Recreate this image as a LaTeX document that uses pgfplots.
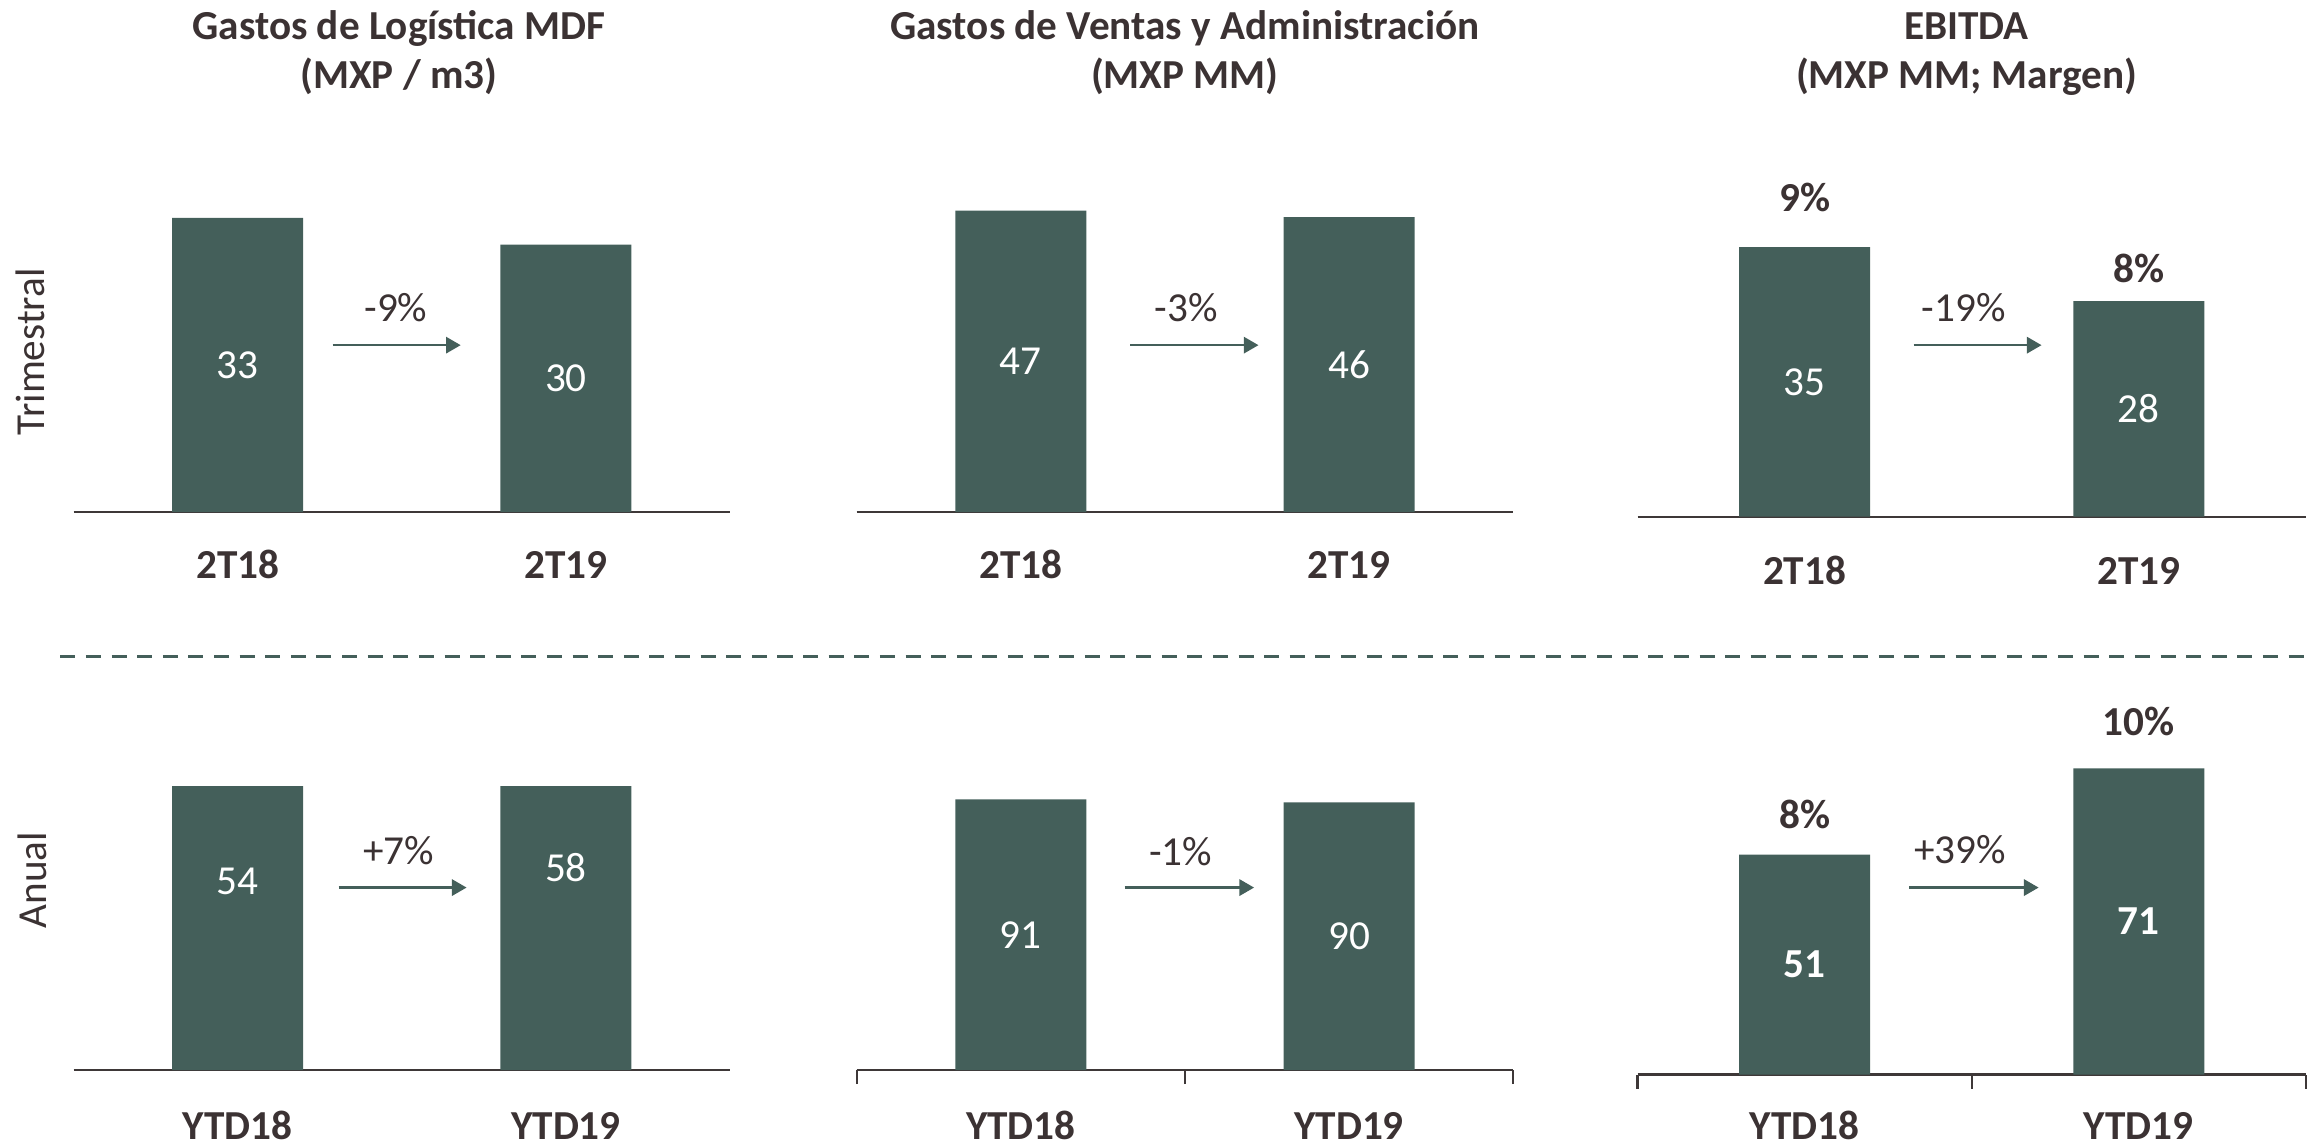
\documentclass[border=0pt]{standalone}
\usepackage{fontspec}
\setmainfont{Carlito}
\usepackage{pgfplots}
\pgfplotsset{compat=1.18}
\usetikzlibrary{arrows.meta}
\definecolor{barc}{HTML}{445F5A}
\definecolor{txt}{HTML}{3B3233}
\definecolor{axc}{HTML}{3E3838}
\newcommand{\vfont}{\fontsize{14}{16.7}\selectfont}
\newcommand{\bfont}{\fontsize{14}{16.7}\selectfont\bfseries}

\pgfplotsset{
  panel/.style={
    scale only axis, anchor=south west,
    xmin=-0.5, xmax=1.5, ymin=0,
    axis x line*=bottom, hide y axis,
    x axis line style={line width=0.75pt, draw=axc},
    xtick={0,1}, major tick length=0pt, xtick style={draw=none},
    xticklabel style={font=\bfont, text=txt, anchor=base, inner ysep=0pt, yshift=-22.5pt},
  },
  ticked/.style={
    extra x ticks={-0.5,0.5,1.5}, extra x tick labels={},
    extra x tick style={major tick length=4.75pt, tick align=outside,
      xtick style={draw=axc, line width=0.75pt}},
  },
  bars/.style={ybar, bar width=44.5pt, fill=barc, draw=none},
  inlbl/.style={draw=none, nodes near coords, point meta=explicit symbolic,
    nodes near coords style={anchor=center, text=white, font=\vfont}},
  toplbl/.style={draw=none, nodes near coords, point meta=explicit symbolic,
    nodes near coords style={anchor=center, text=txt, font=\bfont}},
}

\begin{document}
\begin{tikzpicture}
\path[use as bounding box] (0,0) rectangle (784pt,-389.5pt);

% ---- Trimestral ----
\begin{axis}[panel, at={(25pt,-174pt)}, width=223pt, height=124pt, ymax=40.92,
  xticklabels={2T18,2T19}]
\addplot[bars] coordinates {(0,33) (1,30)};
\addplot[inlbl] coordinates {(0,16.5)[33] (1,15)[30]};
\end{axis}

\begin{axis}[panel, at={(291pt,-174pt)}, width=223pt, height=124pt, ymax=56.88,
  xticklabels={2T18,2T19}]
\addplot[bars] coordinates {(0,47) (1,46)};
\addplot[inlbl] coordinates {(0,23.5)[47] (1,23)[46]};
\end{axis}

\begin{axis}[panel, at={(556.25pt,-175.5pt)}, width=227pt, height=125.5pt, ymax=47.99,
  xticklabels={2T18,2T19}, xticklabel style={yshift=-0.5pt}]
\addplot[bars] coordinates {(0,35) (1,28)};
\addplot[inlbl] coordinates {(0,17.5)[35] (1,14)[28]};
\addplot[toplbl] coordinates {(0,41.5)[9\%] (1,32.3)[8\%]};
\end{axis}

% ---- Anual ----
\begin{axis}[panel, at={(25pt,-363.5pt)}, width=223pt, height=96.5pt, ymax=40.72,
  xticklabels={YTD18,YTD19}, xticklabel style={yshift=-1pt}]
\addplot[bars] coordinates {(0,54) (1,58)};
\addplot[inlbl] coordinates {(0,27)[54] (1,29)[58]};
\end{axis}

\begin{axis}[panel, ticked, at={(291pt,-363.5pt)}, width=223pt, height=128.5pt, ymax=127.2,
  xticklabels={YTD18,YTD19}, xticklabel style={yshift=-1pt}]
\addplot[bars] coordinates {(0,91) (1,90)};
\addplot[inlbl] coordinates {(0,45.5)[91] (1,45)[90]};
\end{axis}

\begin{axis}[panel, ticked, at={(556.25pt,-365pt)}, width=227pt, height=130pt, ymax=88.74,
  xticklabels={YTD18,YTD19}, xticklabel style={yshift=0.5pt}]
\addplot[bars] coordinates {(0,51) (1,71)};
\addplot[inlbl, nodes near coords style={font=\bfont}] coordinates {(0,25.5)[51] (1,35.5)[71]};
\addplot[toplbl] coordinates {(0,60.2)[8\%] (1,81.9)[10\%]};
\end{axis}

\begin{scope}[x=0.5pt, y=-0.5pt]
% titles
\node[anchor=base, font=\bfont, text=txt] at (271,26.7) {Gastos de Logística MDF};
\node[anchor=base, font=\bfont, text=txt] at (271,60) {(MXP / m3)};
\node[anchor=base, font=\bfont, text=txt] at (805,26.7) {Gastos de Ventas y Administración};
\node[anchor=base, font=\bfont, text=txt] at (805,60) {(MXP MM)};
\node[anchor=base, font=\bfont, text=txt] at (1336,26.7) {EBITDA};
\node[anchor=base, font=\bfont, text=txt] at (1336,60) {(MXP MM; Margen)};

% row labels
\node[rotate=90, font=\vfont, text=txt] at (20.5,239) {Trimestral};
\node[rotate=90, font=\vfont, text=txt] at (22,598) {Anual};

% separator
\draw[barc, line width=0.9pt, dash pattern=on 5.1pt off 3.6pt] (41,446) -- (1568,446);

% change arrows
\tikzset{chg/.style={barc, line width=0.9pt, -{Triangle[length=5pt,width=5.5pt]}}}
\draw[chg] (226,234.5) -- (313,234.5);
\node[font=\vfont, text=txt] at (269,209) {-9\%};
\draw[chg] (768,234.5) -- (855,234.5);
\node[font=\vfont, text=txt] at (806,209) {-3\%};
\draw[chg] (1300,234.5) -- (1387,234.5);
\node[font=\vfont, text=txt] at (1334,209) {-19\%};

\draw[chg] (230,603) -- (317,603);
\node[font=\vfont, text=txt] at (271,578) {+7\%};
\draw[chg] (764,603) -- (852,603);
\node[font=\vfont, text=txt] at (802,578.5) {-1\%};
\draw[chg] (1297,603) -- (1385,603);
\node[font=\vfont, text=txt] at (1331.5,577.5) {+39\%};
\end{scope}
\end{tikzpicture}
\end{document}
